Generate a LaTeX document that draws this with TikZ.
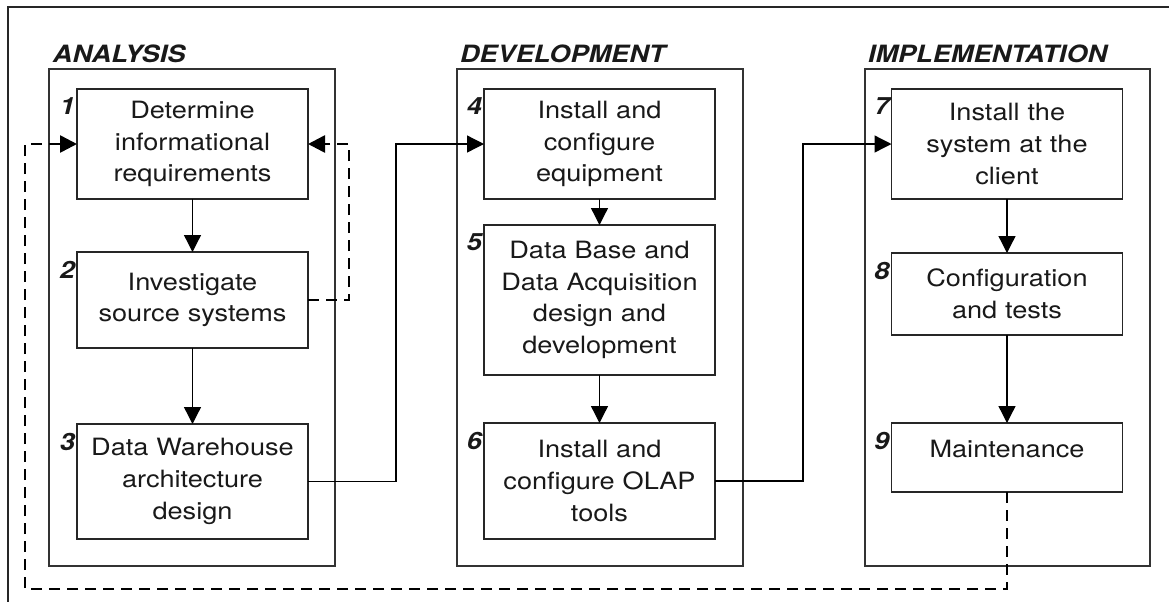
\documentclass[tikz,border=0pt]{standalone}
\usepackage{fontspec}
\setmainfont{TeX Gyre Heros}[FakeStretch=1.14]
\newfontfamily\headfont{TeX Gyre Heros}
\usetikzlibrary{arrows.meta}
\newcommand{\boxfont}{\fontsize{11.9pt}{15.8pt}\selectfont}
\newcommand{\phasename}[1]{\scalebox{1.14}[1]{\headfont\bfseries\itshape #1}}

\begin{document}
\begin{tikzpicture}[x=0.5pt, y=-0.5pt, font=\boxfont, text=black!90,
  every node/.style={outer sep=0pt},
  phase/.style={draw=black!80, line width=0.55pt, minimum width=143pt, minimum height=248.5pt},
  task/.style={draw=black!85, line width=0.65pt, minimum width=115.5pt, text width=112pt, align=center, inner sep=0pt},
  head/.style={anchor=base west, inner sep=0pt},
  num/.style={anchor=north east, inner sep=0pt, xshift=-1pt, yshift=-4.5pt},
  flow/.style={line width=0.65pt, -{Triangle[length=8.5pt,width=8.5pt]}},
  back/.style={line width=1.3pt, dash pattern=on 5.5pt off 3.5pt, -{Triangle[length=8.5pt,width=8.5pt]}}]
\useasboundingbox (0,0) rectangle (1169,601);
\begin{scope}
\clip (0,0) rectangle (1169,601);
\draw[line width=0.8pt, black!85] (8,7) rectangle (1200,640);
\end{scope}

\node[phase] (ana) at (192,317.5) {};
\node[phase] (dev) at (600,317.5) {};
\node[phase, minimum width=142.5pt] (imp) at (1007.5,317.5) {};
\node[head] (anahead) at (53,62) {\phasename{ANALYSIS}};
\node[head] (devhead) at (460,62) {\phasename{DEVELOPMENT}};
\node[head] (imphead) at (868,62) {\phasename{IMPLEMENTATION}};

\node[task, minimum height=55pt, label={[num]north west:\phasename{1}}] (t1) at (192.5,144) {Determine\\informational\\requirements};
\node[task, minimum height=48pt, label={[num]north west:\phasename{2}}] (t2) at (192.5,300) {Investigate\\source systems};
\node[task, minimum height=57.5pt, label={[num]north west:\phasename{3}}] (t3) at (192.5,481.5) {Data Warehouse\\architecture\\design};

\node[task, minimum height=55pt, label={[num]north west:\phasename{4}}] (t4) at (599.5,144) {Install and\\configure\\equipment};
\node[task, minimum height=75pt, label={[num]north west:\phasename{5}}] (t5) at (599.5,300) {Data Base and\\Data Acquisition\\design and\\development};
\node[task, minimum height=58pt, label={[num]north west:\phasename{6}}] (t6) at (599.5,481) {Install and\\configure OLAP\\tools};

\node[task, minimum height=55pt, label={[num]north west:\phasename{7}}] (t7) at (1007,144) {Install the\\system at the\\client};
\node[task, minimum height=41pt, label={[num]north west:\phasename{8}}] (t8) at (1007,294) {Configuration\\and tests};
\node[task, minimum height=34.5pt, text depth=9pt, label={[num]north west:\phasename{9}}] (t9) at (1007,457.5) {Maintenance};

\draw[flow] (t1) -- (t2);
\draw[flow] (t2) -- (t3);
\draw[flow] (t3.east) -- ++(88,0) |- (t4.west);
\draw[flow] (t4) -- (t5);
\draw[flow] (t5) -- (t6);
\draw[flow] (t6.east) -- ++(88,0) |- (t7.west);
\draw[flow] (t7) -- (t8);
\draw[flow] (t8) -- (t9);

\draw[back] (t2.east) -- ++(41,0) |- (t1.east);
\coordinate (ret) at (25,589);
\draw[back] (t9.south) |- (ret) |- (t1.west);
\end{tikzpicture}
\end{document}
